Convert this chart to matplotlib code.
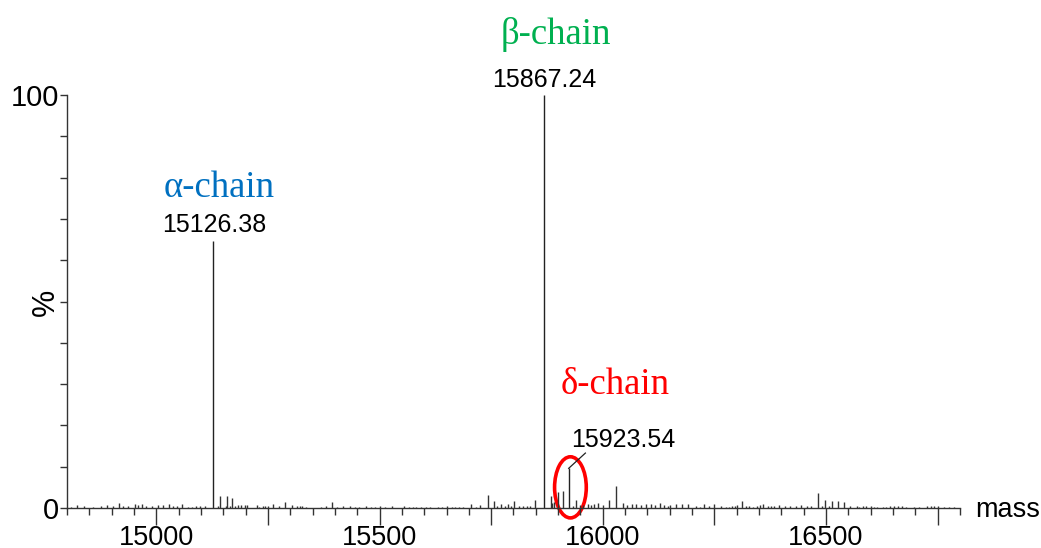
import matplotlib
matplotlib.use("Agg")
import matplotlib.pyplot as plt
from matplotlib.patches import Ellipse
from matplotlib.ticker import FixedLocator, MultipleLocator, FuncFormatter

# ---- data ----
main_mass = [15126.38, 15867.24, 15923.54]
main_height = [64.6, 100.0, 9.6]
main_names = ["\u03b1-chain", "\u03b2-chain", "\u03b4-chain"]
main_colors = ["#0070C0", "#00B050", "#FF0000"]

noise_mass = [
    14810, 14823, 14838, 14858, 14877, 14890, 14903, 14916, 14925, 14936,
    14953, 14959, 14968, 14978, 14990, 15004, 15016, 15028, 15037, 15047,
    15057, 15071, 15080, 15089, 15097, 15108,
    15138, 15143, 15155, 15159, 15164, 15169, 15177, 15183, 15189, 15198,
    15204, 15225, 15230, 15239, 15244, 15250, 15261, 15275, 15289, 15304,
    15316, 15321, 15326, 15336, 15369, 15380, 15393, 15405, 15418, 15433,
    15445, 15455,
    15470, 15481, 15490, 15500, 15513, 15527, 15554, 15567, 15575, 15582,
    15592, 15604, 15614, 15630, 15639, 15651, 15662, 15669, 15677, 15686,
    15705, 15716, 15726, 15742, 15757, 15763, 15772, 15780, 15787, 15795,
    15801,
    15813, 15821, 15830, 15838, 15848, 15883, 15886, 15890, 15899, 15910,
    15933, 15940, 15948, 15955, 15966, 15974, 15981, 15990, 16000, 16013,
    16030, 16045, 16054, 16065, 16075, 16086, 16097, 16107, 16116, 16127,
    16136,
    16145, 16151, 16163, 16177, 16190, 16209, 16218, 16227, 16237, 16248,
    16265, 16276, 16283, 16289, 16295, 16301, 16311, 16321, 16328, 16336,
    16345, 16352, 16359, 16371, 16377, 16383, 16394, 16407, 16420, 16433,
    16445, 16457, 16466,
    16483, 16492, 16498, 16507, 16513, 16526, 16541, 16554, 16569, 16574,
    16582, 16589, 16600, 16608, 16615, 16627, 16634, 16644, 16653, 16662,
    16669, 16679, 16698, 16709, 16726, 16735, 16742, 16751, 16765, 16776,
    16787,
]
noise_height = [
    0.24, 0.65, 0.4, 0.24, 0.48, 0.65, 0.4, 1.2, 0.4, 0.4,
    0.89, 0.73, 0.97, 0.4, 0.4, 0.73, 0.73, 0.97, 0.4, 0.4,
    0.89, 0.24, 0.24, 0.4, 0.4, 0.4,
    0.57, 3.0, 0.4, 2.8, 0.4, 2.5, 0.4, 0.8, 0.73, 0.65,
    0.8, 0.65, 0.3, 0.4, 0.4, 0.4, 0.89, 0.4, 1.37, 0.65,
    0.4, 0.4, 0.4, 0.24, 0.3, 0.4, 1.45, 0.24, 0.4, 0.4,
    0.24, 0.24,
    0.4, 0.24, 0.24, 0.48, 0.24, 0.4, 0.4, 0.24, 0.24, 0.24,
    0.3, 0.3, 0.24, 0.24, 0.24, 0.4, 0.24, 0.24, 0.24, 0.24,
    0.89, 0.3, 0.8, 3.07, 1.6, 0.4, 1.05, 0.4, 1.05, 0.57,
    1.7,
    0.5, 0.5, 0.5, 0.5, 1.9, 2.9, 1.2, 1.4, 3.95, 4.1,
    0.5, 1.9, 0.7, 0.7, 0.97, 0.7, 0.97, 1.3, 0.7, 1.9,
    5.3, 1.3, 0.7, 0.97, 0.97, 0.7, 0.97, 0.97, 0.7, 1.3,
    0.7,
    0.4, 0.73, 1.05, 1.05, 0.89, 0.4, 0.24, 1.05, 0.4, 1.05,
    0.4, 0.24, 0.24, 0.4, 0.4, 0.73, 1.6, 0.4, 0.4, 0.24,
    0.4, 0.73, 1.05, 0.57, 0.57, 0.57, 0.8, 0.57, 0.4, 0.4,
    0.8, 0.57, 0.57,
    3.6, 0.4, 1.85, 0.57, 1.6, 1.6, 1.45, 0.57, 0.4, 0.24,
    0.4, 0.4, 0.4, 0.24, 0.24, 0.24, 0.24, 0.4, 0.4, 0.4,
    0.4, 0.24, 0.3, 0.3, 0.4, 0.4, 0.4, 0.4, 0.3, 0.24,
    0.24,
]

x_tick_labels = ["15000", "15500", "16000", "16500"]

# ---- figure ----
W, H = 1041, 548
fig = plt.figure(figsize=(W / 100, H / 100), dpi=100)
ax = fig.add_axes([67 / W, (H - 508) / H, (960 - 67) / W, (508 - 95) / H])

ax.vlines(noise_mass, 0, noise_height, color="#333333", lw=1.0)
ax.vlines(main_mass, 0, main_height, color="#222222", lw=1.0)

ax.set_xlim(14800, 16800)
ax.set_ylim(0, 100)

for s in ("top", "right"):
    ax.spines[s].set_visible(False)
for s in ("left", "bottom"):
    ax.spines[s].set_color("#333333")
    ax.spines[s].set_linewidth(1.0)

sans = "Liberation Sans"
serif = "Liberation Serif"

# x ticks
ax.xaxis.set_major_locator(MultipleLocator(250))
ax.xaxis.set_minor_locator(MultipleLocator(50))
ax.xaxis.set_major_formatter(FuncFormatter(
    lambda v, p: (str(int(v)) if str(int(v)) in x_tick_labels else "")))
ax.tick_params(axis="x", which="major", direction="out", length=12, width=1,
               color="#333333", labelsize=19.5, pad=0.5)
ax.tick_params(axis="x", which="minor", direction="out", length=5, width=1,
               color="#333333")
# y ticks
ax.yaxis.set_major_locator(FixedLocator([0, 100]))
ax.yaxis.set_minor_locator(MultipleLocator(10))
ax.tick_params(axis="y", which="major", direction="out", length=5, width=1,
               color="#333333", labelsize=21, pad=1)
ax.tick_params(axis="y", which="minor", direction="out", length=5, width=1,
               color="#333333")
for lab in ax.get_xticklabels() + ax.get_yticklabels():
    lab.set_family(sans)

# peak labels
num_pos = [(15130.5, 68.6), (15869, 103.6), (16046, 16.5)]
name_pos = [(15140, 77.6), (15894, 114.6), (16028, 29.8)]
for m, h, name, col, (nx, ny), (tx, ty) in zip(main_mass, main_height, main_names,
                                               main_colors, num_pos, name_pos):
    ax.text(nx, ny, f"{m:.2f}", ha="center", va="center", fontsize=18,
            family=sans, color="black", clip_on=False)
    ax.text(tx, ty, name, ha="center", va="center", fontsize=26.5,
            family=serif, color=col, clip_on=False)

# leader line for delta peak
ax.plot([main_mass[2], 15961], [main_height[2], 13.3], color="#222222", lw=0.9,
        clip_on=False)

# red ellipse around delta peak
ax.add_patch(Ellipse((15927.5, 5.0), 71, 14.8, fill=False, edgecolor="#FF0000",
                     lw=2.6, clip_on=False))

fig.text(975 / W, 1 - 510 / H, "mass", ha="left", va="center", fontsize=19.5,
         family=sans)
fig.text(46 / W, 1 - 302 / H, "%", ha="center", va="center", fontsize=22,
         family=sans, rotation=90)

fig.savefig("out.png", dpi=100)
